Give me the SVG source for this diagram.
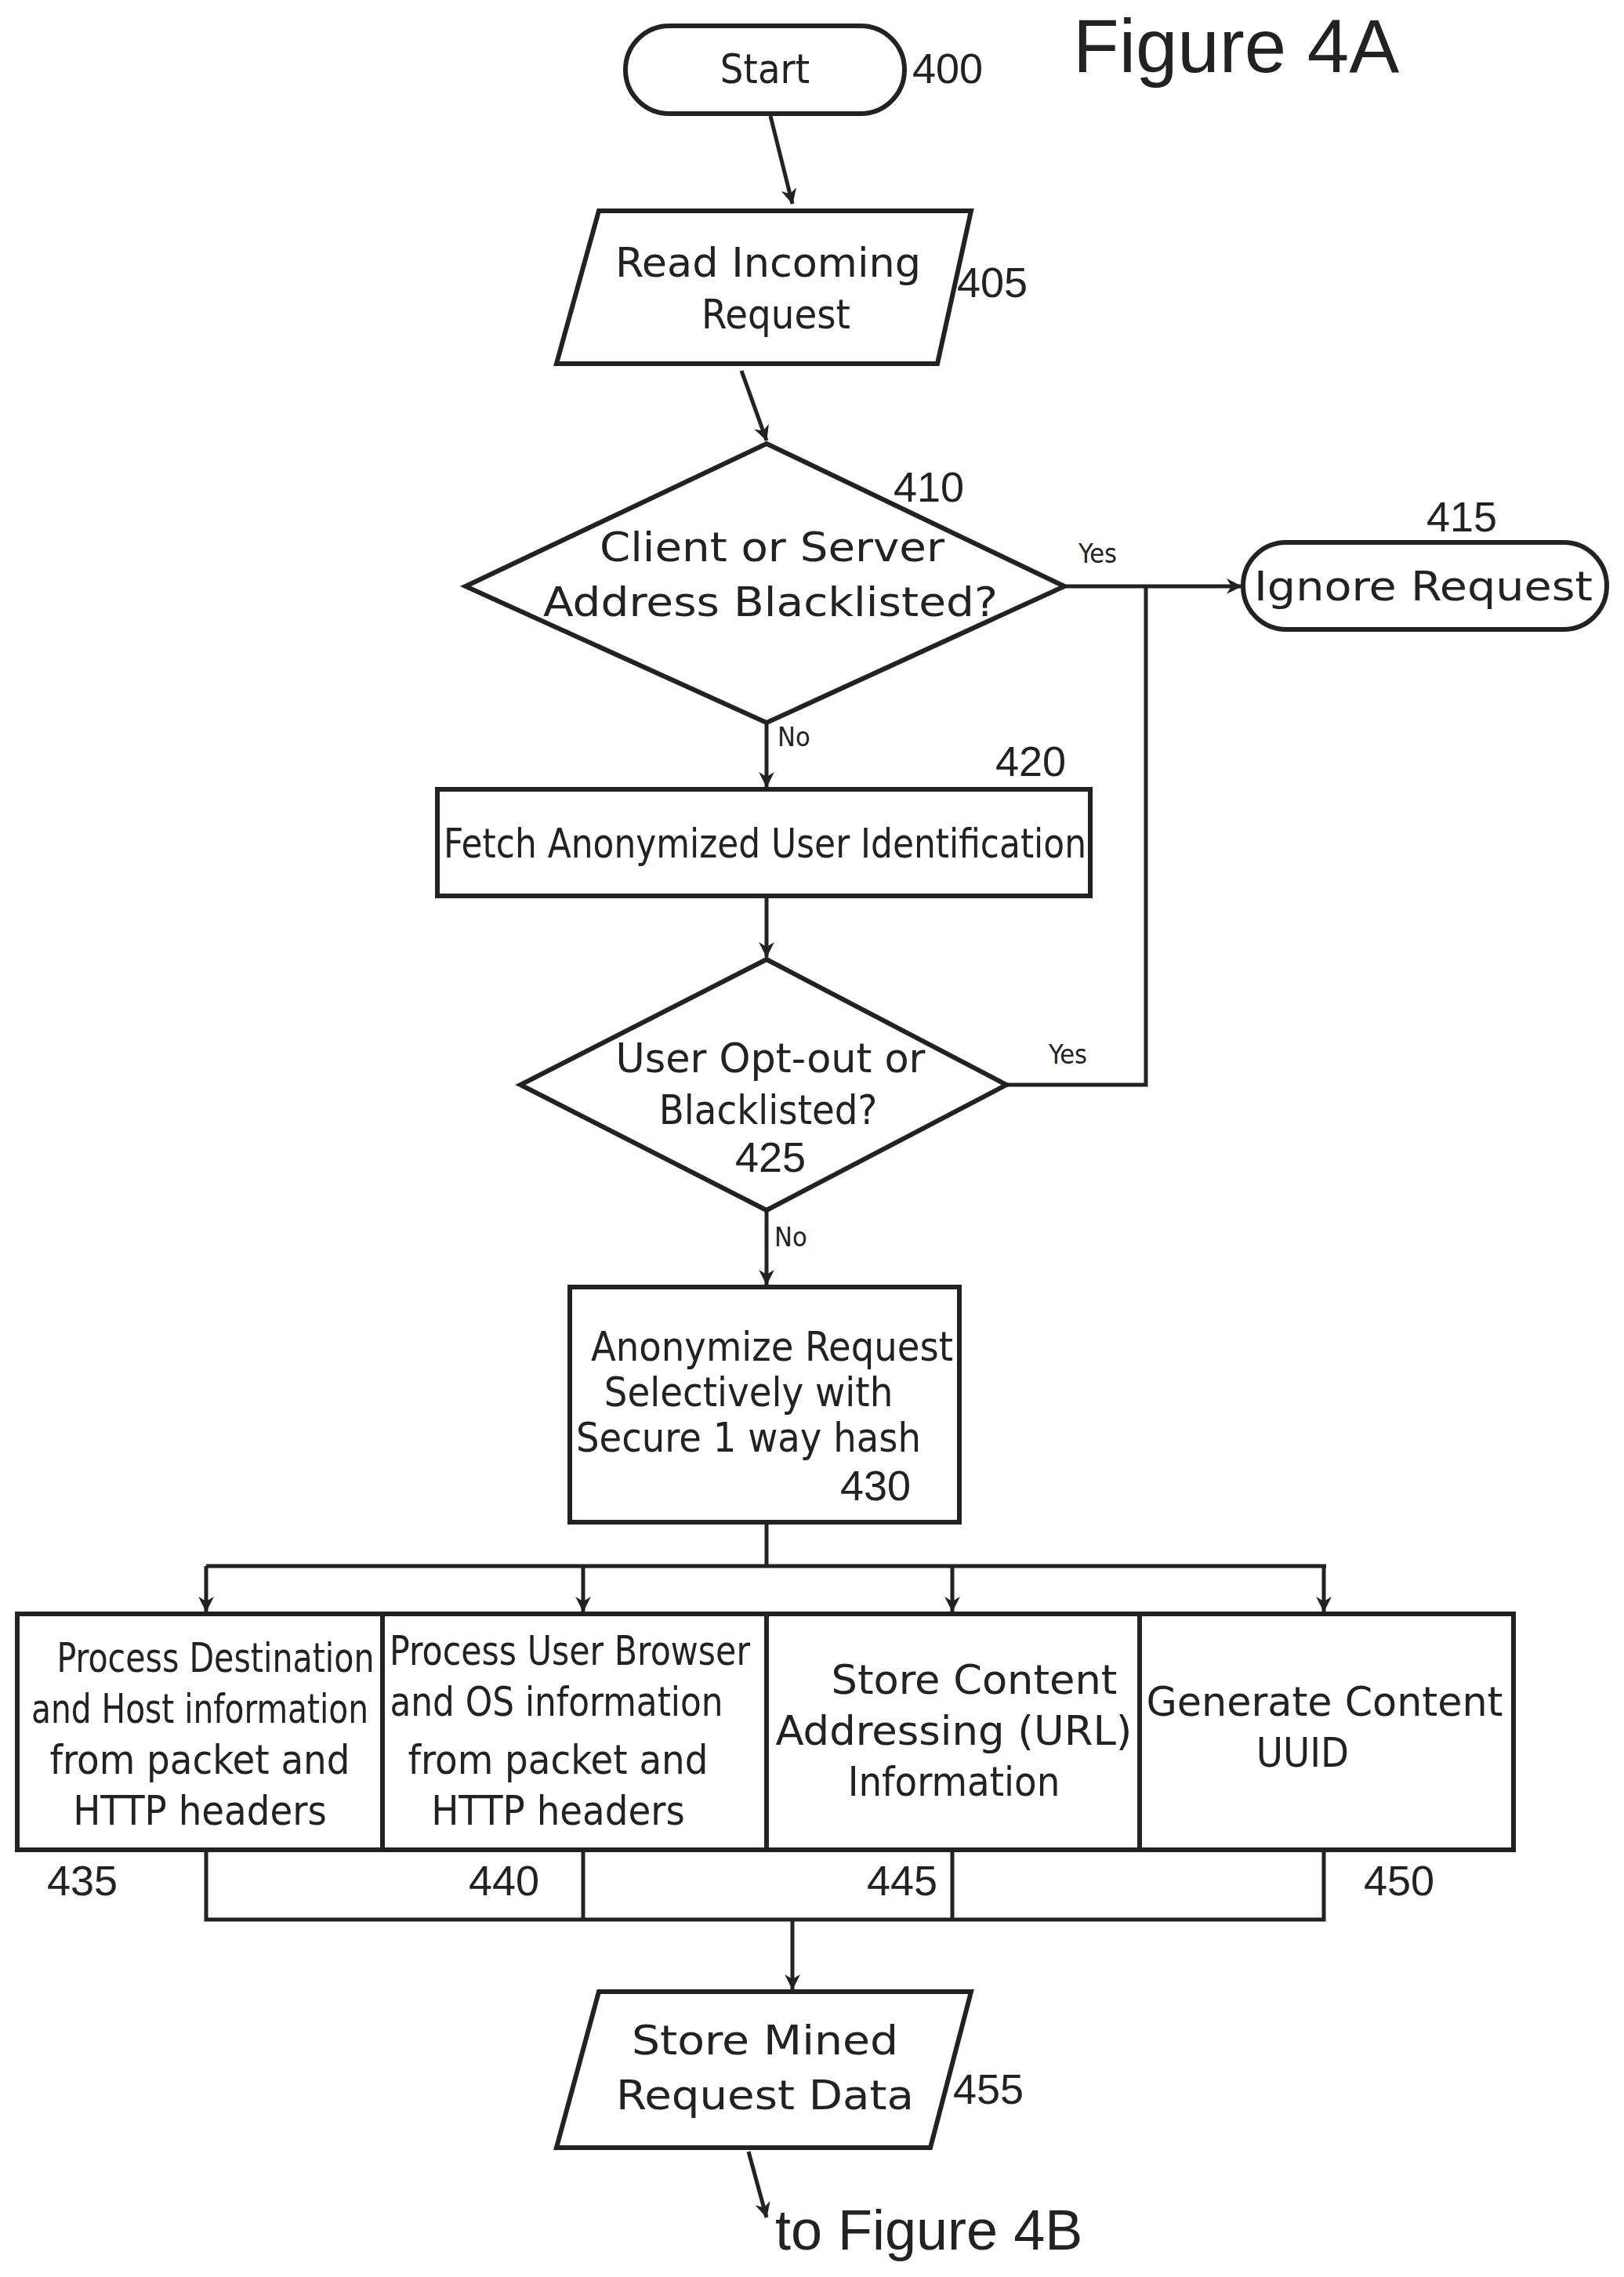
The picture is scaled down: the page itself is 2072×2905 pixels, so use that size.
<svg xmlns="http://www.w3.org/2000/svg" width="2072" height="2905" viewBox="0 0 2072 2905">
<style>
.s{fill:#fff;stroke:#222;stroke-width:6}
.l{fill:none;stroke:#222;stroke-width:5}
.t{font-family:"DejaVu Sans Condensed","DejaVu Sans",sans-serif;font-size:52px;fill:#222;text-anchor:middle}
.n{font-family:"Liberation Sans",Arial,sans-serif;font-size:54px;fill:#222}
.y{font-family:"DejaVu Sans Condensed","DejaVu Sans",sans-serif;font-size:34px;fill:#222}
</style>
<defs>
<marker id="a" viewBox="0 0 20 20" refX="18" refY="10" markerWidth="9" markerHeight="9" markerUnits="userSpaceOnUse" orient="auto" style="overflow:visible">
<path d="M0,0 L20,10 L0,20 L6,10 Z" fill="#222" transform="scale(2.2) translate(-11,-5.5)"/>
</marker>
</defs>
<g id="connectors">
<line class="l" x1="983" y1="148" x2="1011" y2="260" marker-end="url(#a)"/>
<line class="l" x1="946" y1="473" x2="978" y2="562" marker-end="url(#a)"/>
<line class="l" x1="1358" y1="748" x2="1584" y2="748" marker-end="url(#a)"/>
<polyline class="l" points="1284,1384 1462,1384 1462,748"/>
<line class="l" x1="978" y1="922" x2="978" y2="1004" marker-end="url(#a)"/>
<line class="l" x1="978" y1="1143" x2="978" y2="1221" marker-end="url(#a)"/>
<line class="l" x1="978" y1="1544" x2="978" y2="1639" marker-end="url(#a)"/>
<line class="l" x1="978" y1="1942" x2="978" y2="1998"/>
<line class="l" x1="263" y1="1998" x2="1692" y2="1998"/>
<line class="l" x1="263" y1="1998" x2="263" y2="2056" marker-end="url(#a)"/>
<line class="l" x1="744" y1="1998" x2="744" y2="2056" marker-end="url(#a)"/>
<line class="l" x1="1215" y1="1998" x2="1215" y2="2056" marker-end="url(#a)"/>
<line class="l" x1="1689" y1="1998" x2="1689" y2="2056" marker-end="url(#a)"/>
<polyline class="l" points="263,2360 263,2449 1689,2449 1689,2360"/>
<line class="l" x1="744" y1="2360" x2="744" y2="2449"/>
<line class="l" x1="1215" y1="2360" x2="1215" y2="2449"/>
<line class="l" x1="1011" y1="2449" x2="1011" y2="2538" marker-end="url(#a)"/>
<line class="l" x1="955" y1="2745" x2="978" y2="2829" marker-end="url(#a)"/>
<text class="y" x="1376" y="718">Yes</text>
<text class="y" x="1338" y="1357">Yes</text>
<text class="y" x="992" y="952">No</text>
<text class="y" x="988" y="1590">No</text>
</g>
<text x="1369" y="92" font-family="Liberation Sans,Arial,sans-serif" font-size="96" fill="#222">Figure 4A</text>
<g id="n400">
<rect class="s" x="798" y="33" width="356" height="112" rx="56"/>
<text class="t" x="976" y="106" font-size="68">Start</text>
<text class="n" x="1164" y="106">400</text>
</g>
<g id="n405">
<polygon class="s" points="764,269 1239,269 1196,464 710,464"/>
<text class="t" x="980" y="353" textLength="390" lengthAdjust="spacingAndGlyphs">Read Incoming</text>
<text class="t" x="990" y="419">Request</text>
<text class="n" x="1221" y="379">405</text>
</g>
<g id="n410">
<polygon class="s" points="978,566 1358,748 978,922 594,748"/>
<text class="t" x="985" y="716" textLength="440" lengthAdjust="spacingAndGlyphs">Client or Server</text>
<text class="t" x="983" y="786" textLength="580" lengthAdjust="spacingAndGlyphs">Address Blacklisted?</text>
<text class="n" x="1140" y="640">410</text>
</g>
<g id="n415">
<rect class="s" x="1586" y="692" width="464" height="111" rx="55"/>
<text class="t" x="1816" y="766" textLength="432" lengthAdjust="spacingAndGlyphs">Ignore Request</text>
<text class="n" x="1820" y="678">415</text>
</g>
<g id="n420">
<rect class="s" x="558" y="1007" width="833" height="136"/>
<text class="t" x="976" y="1094" textLength="820" lengthAdjust="spacingAndGlyphs">Fetch Anonymized User Identification</text>
<text class="n" x="1270" y="990">420</text>
</g>
<g id="n425">
<polygon class="s" points="978,1224 1284,1384 978,1544 664,1384"/>
<text class="t" x="983" y="1368" textLength="395" lengthAdjust="spacingAndGlyphs">User Opt-out or</text>
<text class="t" x="980" y="1434">Blacklisted?</text>
<text class="n" x="938" y="1495">425</text>
</g>
<g id="n430">
<rect class="s" x="727" y="1642" width="497" height="300"/>
<text class="t" x="985" y="1736" textLength="462" lengthAdjust="spacingAndGlyphs">Anonymize Request</text>
<text class="t" x="955" y="1794">Selectively with</text>
<text class="t" x="955" y="1852" textLength="440" lengthAdjust="spacingAndGlyphs">Secure 1 way hash</text>
<text class="n" x="1072" y="1914">430</text>
</g>
<g id="n435">
<rect class="s" x="22" y="2059" width="466" height="301"/>
<text class="t" x="275" y="2133" textLength="405" lengthAdjust="spacingAndGlyphs">Process Destination</text>
<text class="t" x="255" y="2198" textLength="430" lengthAdjust="spacingAndGlyphs">and Host information</text>
<text class="t" x="255" y="2263">from packet and</text>
<text class="t" x="255" y="2328">HTTP headers</text>
<text class="n" x="60" y="2418">435</text>
</g>
<g id="n440">
<rect class="s" x="488" y="2059" width="490" height="301"/>
<text class="t" x="727" y="2124" textLength="460" lengthAdjust="spacingAndGlyphs">Process User Browser</text>
<text class="t" x="710" y="2189" textLength="425" lengthAdjust="spacingAndGlyphs">and OS information</text>
<text class="t" x="712" y="2263">from packet and</text>
<text class="t" x="712" y="2328">HTTP headers</text>
<text class="n" x="598" y="2418">440</text>
</g>
<g id="n445">
<rect class="s" x="978" y="2059" width="476" height="301"/>
<text class="t" x="1243" y="2161" textLength="365" lengthAdjust="spacingAndGlyphs">Store Content</text>
<text class="t" x="1217" y="2226" textLength="455" lengthAdjust="spacingAndGlyphs">Addressing (URL)</text>
<text class="t" x="1217" y="2291">Information</text>
<text class="n" x="1106" y="2418">445</text>
</g>
<g id="n450">
<rect class="s" x="1454" y="2059" width="477" height="301"/>
<text class="t" x="1690" y="2189" textLength="455" lengthAdjust="spacingAndGlyphs">Generate Content</text>
<text class="t" x="1662" y="2254">UUID</text>
<text class="n" x="1740" y="2418">450</text>
</g>
<g id="n455">
<polygon class="s" points="764,2541 1239,2541 1187,2740 710,2740"/>
<text class="t" x="976" y="2621" textLength="340" lengthAdjust="spacingAndGlyphs">Store Mined</text>
<text class="t" x="976" y="2691" textLength="380" lengthAdjust="spacingAndGlyphs">Request Data</text>
<text class="n" x="1216" y="2684">455</text>
</g>
<text x="989" y="2870" font-family="Liberation Sans,Arial,sans-serif" font-size="72" fill="#222">to Figure 4B</text>
</svg>
